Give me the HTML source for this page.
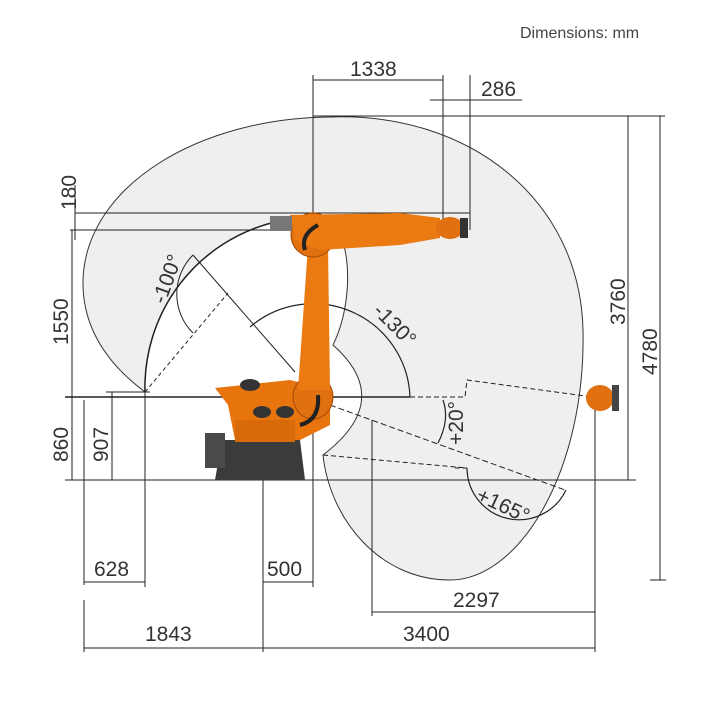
<!DOCTYPE html>
<html><head><style>
html,body{margin:0;padding:0;background:#fff;}
svg{display:block;font-family:"Liberation Sans",sans-serif;}
</style></head><body>
<svg width="706" height="706" viewBox="0 0 706 706" xmlns="http://www.w3.org/2000/svg">
<!-- envelope -->
<path d="M145,392 C105,362 82,325 83,280 C86,185 200,118 330,117 C470,112 580,200 583,330 C586,470 520,580 450,580 C380,580 330,520 323,455 Q395,400 333,345 C350,310 352,260 340,235 L275,222 A170,170 0 0 0 145,392 Z" fill="#efefef" stroke="#333" stroke-width="1"/>
<g stroke="#222" stroke-width="1" fill="none">
<line x1="65" y1="397" x2="410" y2="397" stroke-width="1.5"/>
<line x1="65" y1="480" x2="630" y2="480"/>
<line x1="70" y1="230" x2="310" y2="230"/>
<line x1="75" y1="213" x2="470" y2="213"/>
<line x1="313" y1="116" x2="665" y2="116"/>
<line x1="84" y1="400" x2="84" y2="585"/>
<line x1="84" y1="600" x2="84" y2="652"/>
<line x1="145" y1="392" x2="145" y2="587"/>
<line x1="263" y1="430" x2="263" y2="652"/>
<line x1="313" y1="75" x2="313" y2="587"/>
<line x1="372" y1="420" x2="372" y2="616"/>
<line x1="443" y1="75" x2="443" y2="230"/>
<line x1="470" y1="75" x2="470" y2="230"/>
<line x1="595" y1="390" x2="595" y2="652"/>
<line x1="628" y1="116" x2="628" y2="480"/>
<line x1="660" y1="116" x2="660" y2="580"/>
<line x1="620" y1="480" x2="636" y2="480"/>
<line x1="650" y1="580" x2="666" y2="580"/>
<line x1="313" y1="80" x2="443" y2="80"/>
<line x1="430" y1="100" x2="522" y2="100"/>
<line x1="84" y1="582" x2="145" y2="582"/>
<line x1="263" y1="582" x2="313" y2="582"/>
<line x1="372" y1="612" x2="595" y2="612"/>
<line x1="84" y1="648" x2="595" y2="648"/>
<line x1="75" y1="185" x2="75" y2="240"/>
<line x1="72" y1="230" x2="72" y2="480"/>
<line x1="112" y1="392" x2="112" y2="480"/>
<line x1="106" y1="392" x2="150" y2="392"/>
<path d="M145,392 A170,170 0 0 1 275,222" stroke-width="1.5"/>
<line x1="193" y1="255" x2="295" y2="372"/>
<line x1="145" y1="392" x2="228" y2="293" stroke-dasharray="4,3"/>
<path d="M193,255 A55,55 0 0 0 193,333"/>
<path d="M250,327 A97,97 0 0 1 410,397" stroke-width="1.2"/>
<path d="M410,397 L465,397 L467,380 L600,398" stroke-dasharray="5,3"/>
<line x1="330" y1="405" x2="565" y2="490" stroke-dasharray="6,3"/>
<path d="M443,400 Q450,420 438,443" stroke-width="1.2"/>
<path d="M323,455 L467,468 L455,468" stroke-dasharray="5,3"/>
<path d="M467,468 A52,52 0 0 0 566,490" stroke-width="1.2"/>
</g>
<g>
<path d="M222,440 L300,440 L305,480 L215,480 Z" fill="#3b3b3b"/>
<rect x="205" y="433" width="20" height="35" fill="#4a4a4a"/>
<path d="M215,388 L290,380 L330,390 L330,425 L300,440 L235,440 L228,405 Z" fill="#e8740e"/>
<rect x="235" y="420" width="60" height="22" fill="#d96a0a"/>
<ellipse cx="250" cy="385" rx="10" ry="6" fill="#333"/>
<ellipse cx="262" cy="412" rx="9" ry="6" fill="#333"/>
<ellipse cx="285" cy="412" rx="9" ry="6" fill="#333"/>
<ellipse cx="313" cy="397" rx="20" ry="22" fill="#e07010" stroke="#a04a05"/>
<path d="M298,390 L308,245 L328,245 L330,390 Z" fill="#ec7a12"/>
<ellipse cx="313" cy="235" rx="22" ry="22" fill="#e07010" stroke="#a04a05"/>
<path d="M290,215 L400,213 L440,218 L440,238 L400,245 L320,250 L295,240 Z" fill="#ec7a12"/>
<rect x="270" y="216" width="22" height="15" fill="#777"/>
<ellipse cx="450" cy="228" rx="14" ry="11" fill="#e07010"/>
<rect x="460" y="218" width="8" height="20" fill="#333"/>
<path d="M318,225 Q300,235 305,250" stroke="#222" stroke-width="4" fill="none"/>
<path d="M318,395 Q320,420 300,425" stroke="#222" stroke-width="4" fill="none"/>
<ellipse cx="600" cy="398" rx="14" ry="13" fill="#e07010"/>
<rect x="612" y="385" width="7" height="26" fill="#444"/>
</g>
<g fill="#333" font-size="21">
<text x="520" y="38" font-size="16" fill="#444">Dimensions: mm</text>
<text x="350" y="76">1338</text>
<text x="481" y="96">286</text>
<text x="94" y="576">628</text>
<text x="267" y="576">500</text>
<text x="453" y="607">2297</text>
<text x="145" y="641">1843</text>
<text x="403" y="641">3400</text>
<text transform="translate(76,210) rotate(-90)">180</text>
<text transform="translate(68,345) rotate(-90)">1550</text>
<text transform="translate(68,462) rotate(-90)">860</text>
<text transform="translate(108,462) rotate(-90)">907</text>
<text transform="translate(625,325) rotate(-90)">3760</text>
<text transform="translate(657,375) rotate(-90)">4780</text>
<text transform="translate(165,305) rotate(-70)">-100°</text>
<text transform="translate(372,312) rotate(45)">-130°</text>
<text transform="translate(463,445) rotate(-90)">+20°</text>
<text transform="translate(475,500) rotate(25)">+165°</text>
</g>
</svg>
</body></html>
